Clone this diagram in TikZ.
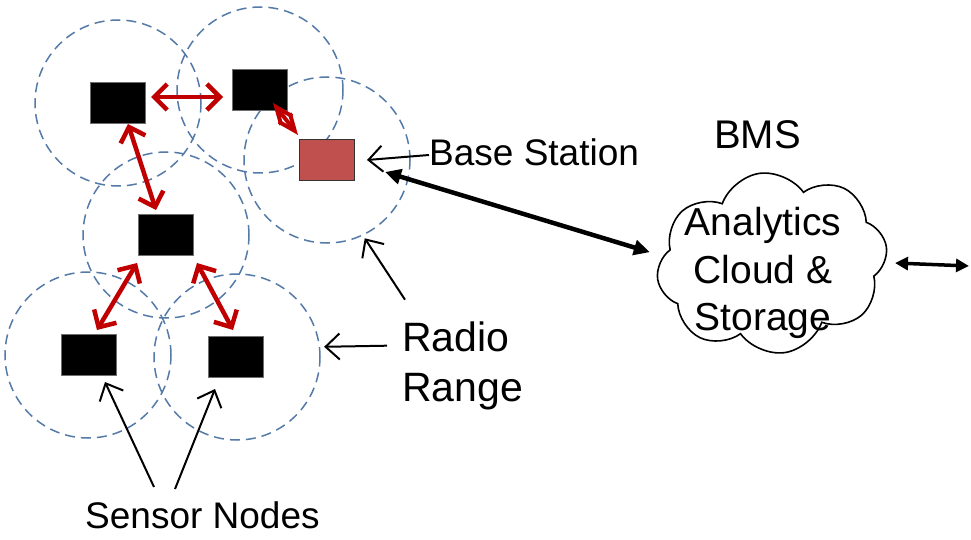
\documentclass[tikz,border=0pt]{standalone}
\usepackage{fontspec}
\setmainfont{Liberation Sans}
\usetikzlibrary{arrows.meta,shapes.symbols,calc}

\definecolor{rangeblue}{RGB}{84,122,168}
\definecolor{linkred}{RGB}{192,0,0}
\definecolor{stationred}{RGB}{192,80,77}
\definecolor{boxedge}{RGB}{110,110,110}

\begin{document}
\begin{tikzpicture}[x=1pt,y=-1pt,
  rangecircle/.style={circle,draw=rangeblue,line width=1.5pt,
    dash pattern=on 10pt off 6pt,minimum size=166pt,inner sep=0pt},
  sensorbox/.style={rectangle,fill=black,draw=boxedge,line width=1pt,
    minimum width=55pt,minimum height=41pt,inner sep=0pt},
  stationbox/.style={sensorbox,fill=stationred,draw=black!80},
  radiolink/.style={draw=linkred,line width=4.5pt,
    {Straight Barb[length=13pt,width=26pt]}-{Straight Barb[length=13pt,width=26pt]}},
  shortlink/.style={draw=linkred,line width=4pt,
    {Straight Barb[length=17pt,width=14pt]}-{Straight Barb[length=17pt,width=14pt]}},
  pointer/.style={draw=black,line width=2pt,
    -{Straight Barb[length=14pt,width=26pt]}},
  uplink/.style={draw=black,line width=4.5pt,
    {Triangle[length=16pt,width=15pt]}-{Triangle[length=16pt,width=15pt]}},
  sidelink/.style={draw=black,line width=3.5pt,
    {Triangle[length=13pt,width=13pt]}-{Triangle[length=13pt,width=13pt]}},
  bigtext/.style={inner sep=0pt,font=\fontsize{37}{43}\selectfont},
]
\useasboundingbox (0,0) rectangle (971,540);

% radio ranges
\node[rangecircle] (cA) at (118,103) {};
\node[rangecircle] (cB) at (260,90) {};
\node[rangecircle] (cC) at (327,160) {};
\node[rangecircle] (cD) at (166,235) {};
\node[rangecircle] (cE) at (88,355) {};
\node[rangecircle] (cF) at (237,357) {};

% sensor nodes and base station
\node[sensorbox] (n1) at (118,103) {};
\node[sensorbox] (n2) at (260,90) {};
\node[sensorbox] (n3) at (166,235) {};
\node[sensorbox] (n4) at (89,355) {};
\node[sensorbox] (n5) at (236,357) {};
\node[stationbox] (bs) at (327,160) {};

% wireless links
\draw[radiolink] ($(n1)+(33,-6)$) -- ($(n2)+(-37,7)$);
\draw[radiolink] ($(n1)+(10,21)$) -- ($(n3)+(-10,-25)$);
\draw[shortlink] ($(n2)+(13,13)$) -- ($(bs)+(-29,-25)$);
\draw[radiolink] ($(n3)+(-29,28)$) -- ($(n4)+(8,-25)$);
\draw[radiolink] ($(n3)+(31,28)$) -- ($(n5)+(-3,-27)$);

% labels
\node[bigtext,anchor=base west] (bslabel) at (429,166) {Base Station};
\node[inner sep=0pt,anchor=west,align=left,
  font=\fontsize{41}{50}\selectfont] (rangelabel) at (402,366) {Radio\\Range};
\node[bigtext,anchor=base west] (sensorlabel) at (85,528) {Sensor Nodes};
\node[inner sep=0pt,anchor=base west,font=\fontsize{40}{48}\selectfont]
  (bms) at (714,149) {BMS};

% cloud
\node[cloud,draw=black,line width=1.6pt,cloud puffs=8,cloud puff arc=125,
  cloud ignores aspect,minimum width=231pt,minimum height=181pt,inner sep=0pt,
  rotate=8] (cloud) at (772,263) {};
\node[inner sep=0pt,align=center,font=\fontsize{39}{47.5}\selectfont]
  (cloudtext) at (763,273) {Analytics\\Cloud \&\\Storage};
\coordinate (outside) at (969,266);

% pointers
\draw[pointer] (bslabel.west |- 0,155) -- ($(bs.east)+(12,0)$);
\draw[pointer] ($(rangelabel.north west)+(3,-22)$) -- ($(cC.-64)+(1,3)$);
\draw[pointer] ($(rangelabel.north west)+(-15,24)$) -- ($(cF.7)+(4,0)$);
\draw[pointer] ($(sensorlabel.north west)+(69,-14)$) -- ($(n4.south)+(16,6)$);
\draw[pointer] ($(sensorlabel.north west)+(90,-12)$) -- ($(n5.south)+(-21,11)$);

% uplinks
\draw[uplink] ($(bs.east)+(30,12)$) -- ($(cloud.west)+(-7,-27)$);
\draw[sidelink] (895,263) -- (outside);
\end{tikzpicture}
\end{document}
